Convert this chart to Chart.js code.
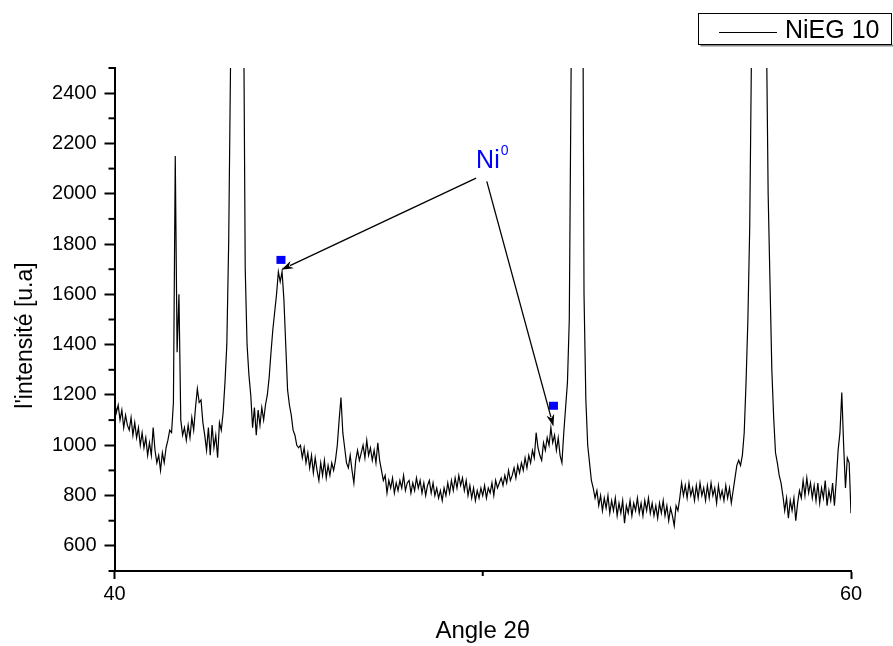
<!DOCTYPE html>
<html>
<head>
<meta charset="utf-8">
<script src="https://cdn.jsdelivr.net/npm/chart.js@4.4.1/dist/chart.umd.min.js"></script>
<style>
  html, body { margin: 0; padding: 0; background: #fff; }
  #wrap { width: 893px; height: 646px; }
</style>
</head>
<body>
<div id="wrap"><canvas id="canvas" width="893" height="646"></canvas></div>
<script>
// Diffractogramme NiEG 10, pas de 0.05° entre 40 et 60
const angleStart = 40;
const angleStep = 0.05;
const seriesLabel = 'NiEG 10';

// intensités, un bloc par degré
const intensity = [
  1180, 1130, 1160, 1100, 1140, 1070, 1120, 1080, 1060, 1110, 1040, 1090, 1030, 1070, 1000, 1050, 990, 1030, 960, 1010,
  960, 1070, 980, 930, 960, 900, 970, 930, 990, 1020, 1060, 1050, 1170, 2150, 1370, 1600, 1100, 1040, 1070, 1020,
  1080, 1030, 1110, 1060, 1150, 1225, 1170, 1180, 1090, 1040, 980, 1070, 960, 1080, 990, 1040, 950, 1090, 1060, 1130,
  1250, 1400, 1800, 2500, 3500, 4500, 5200, 5300, 4800, 3800, 2900, 1700, 1400, 1280, 1200, 1070, 1150, 1040, 1140, 1080,
  1150, 1100, 1160, 1200, 1270, 1370, 1460, 1530, 1600, 1690, 1650, 1690, 1580, 1400, 1220, 1160, 1120, 1060, 1040, 1000,
  990, 1000, 950, 990, 930, 970, 910, 960, 890, 950, 900, 860, 930, 880, 940, 870, 920, 880, 930, 900,
  940, 1000, 1100, 1190, 1050, 990, 930, 910, 960, 900, 850, 940, 980, 940, 970, 1000, 950, 1020, 960, 990,
  940, 980, 930, 1010, 940, 900, 860, 880, 810, 860, 830, 870, 810, 850, 820, 860, 830, 880, 820, 850,
  860, 810, 850, 820, 870, 830, 860, 810, 850, 800, 840, 860, 810, 850, 800, 830, 790, 820, 780, 830,
  800, 850, 810, 860, 820, 870, 830, 880, 840, 870, 820, 860, 800, 840, 790, 830, 780, 820, 790, 830,
  800, 840, 790, 830, 810, 850, 800, 860, 830, 850, 870, 840, 880, 850, 900, 860, 880, 910, 870, 920,
  890, 930, 900, 950, 910, 960, 930, 980, 950, 1050, 990, 960, 940, 1010, 980, 1030, 1000, 1070, 1010, 1040,
  980, 1030, 960, 930, 1050, 1150, 1250, 1500, 2500, 4000, 5500, 6200, 6300, 5600, 3500, 1600, 1180, 1000, 930, 860,
  830, 790, 820, 760, 800, 740, 790, 750, 800, 730, 780, 740, 790, 720, 770, 730, 780, 690, 760, 730,
  780, 720, 770, 740, 790, 730, 770, 720, 780, 740, 790, 730, 770, 720, 760, 710, 770, 730, 780, 720,
  760, 700, 750, 720, 680, 760, 740, 790, 850, 800, 840, 790, 850, 800, 830, 780, 840, 790, 850, 800,
  830, 780, 840, 790, 850, 800, 830, 770, 840, 790, 820, 780, 840, 790, 830, 770, 820, 870, 920, 940,
  920, 960, 1050, 1250, 1500, 1870, 2600, 3600, 4600, 5200, 5400, 5100, 4400, 3500, 2700, 2000, 1650, 1300, 1110, 970,
  930, 880, 850, 800, 740, 790, 710, 780, 740, 790, 700, 770, 820, 790, 860, 800, 870, 810, 850, 790,
  840, 780, 850, 770, 830, 790, 860, 760, 820, 780, 850, 760, 860, 980, 1050, 1210, 1000, 830, 950, 930, 730
];

// axes
const xMin = 40, xMax = 60, xStep = 10, xLabelEvery = 20;
const yMin = 500, yMax = 2500, yStep = 100, yLabelEvery = 200;

// annotation Ni0 (coordonnées en unités des axes)
const niMarkers = [[44.52, 1737], [51.92, 1157]];
const niArrows = [[49.82, 2062, 44.53, 1698], [50.11, 2049, 51.92, 1075]];
const niLabelAt = [49.82, 2103];

const points = intensity.map((v, i) => ({ x: +(angleStart + i * angleStep).toFixed(2), y: v }));

const FONT = "'Liberation Sans', Arial, sans-serif";

const extras = {
  id: 'extras',
  afterDraw(chart) {
    const { ctx, chartArea, scales: { x, y } } = chart;
    ctx.save();
    ctx.strokeStyle = '#000';
    ctx.lineWidth = 2;
    // petites graduations
    y.ticks.forEach(t => {
      if (t.value % yLabelEvery !== 0) {
        const py = y.getPixelForValue(t.value);
        ctx.beginPath(); ctx.moveTo(chartArea.left - 6, py); ctx.lineTo(chartArea.left, py); ctx.stroke();
      }
    });
    x.ticks.forEach(t => {
      if (t.value % xLabelEvery !== 0) {
        const px = x.getPixelForValue(t.value);
        ctx.beginPath(); ctx.moveTo(px, chartArea.bottom); ctx.lineTo(px, chartArea.bottom + 5); ctx.stroke();
      }
    });

    // flèches
    ctx.lineWidth = 1.3;
    ctx.fillStyle = '#000';
    niArrows.forEach(([x1, y1, x2, y2]) => {
      const ax = x.getPixelForValue(x1), ay = y.getPixelForValue(y1);
      const bx = x.getPixelForValue(x2), by = y.getPixelForValue(y2);
      const ang = Math.atan2(by - ay, bx - ax);
      const len = 12, w = 4;
      ctx.beginPath(); ctx.moveTo(ax, ay);
      ctx.lineTo(bx - Math.cos(ang) * len * 0.8, by - Math.sin(ang) * len * 0.8); ctx.stroke();
      ctx.beginPath();
      ctx.moveTo(bx, by);
      ctx.lineTo(bx - Math.cos(ang) * len - Math.sin(ang) * w, by - Math.sin(ang) * len + Math.cos(ang) * w);
      ctx.lineTo(bx - Math.cos(ang) * len * 0.7, by - Math.sin(ang) * len * 0.7);
      ctx.lineTo(bx - Math.cos(ang) * len + Math.sin(ang) * w, by - Math.sin(ang) * len - Math.cos(ang) * w);
      ctx.closePath(); ctx.fill();
    });

    // carrés bleus
    ctx.fillStyle = '#0000ff';
    niMarkers.forEach(([mx, my]) => {
      const px = x.getPixelForValue(mx), py = y.getPixelForValue(my);
      ctx.fillRect(px - 4.5, py - 4, 9, 8);
    });

    // texte Ni0
    const lx = x.getPixelForValue(niLabelAt[0]), ly = y.getPixelForValue(niLabelAt[1]);
    ctx.textBaseline = 'alphabetic';
    ctx.textAlign = 'left';
    ctx.font = '25px ' + FONT;
    ctx.fillText('Ni', lx, ly);
    const wNi = ctx.measureText('Ni').width;
    ctx.font = '14px ' + FONT;
    ctx.fillText('0', lx + wNi + 1, ly - 13);

    // légende
    const bx = 698.5, by = 13.5, bw = 193, bh = 31;
    ctx.fillStyle = '#888';
    ctx.fillRect(bx + 2, by + bh, bw, 2);
    ctx.fillStyle = '#fff';
    ctx.fillRect(bx, by, bw, bh);
    ctx.strokeStyle = '#000';
    ctx.lineWidth = 1;
    ctx.strokeRect(bx, by, bw, bh);
    ctx.beginPath(); ctx.moveTo(719, 32.5); ctx.lineTo(777, 32.5); ctx.stroke();
    ctx.fillStyle = '#000';
    ctx.font = '25px ' + FONT;
    ctx.fillText(chart.data.datasets[0].label, 785, 38);
    ctx.restore();
  }
};

new Chart(document.querySelector('#canvas'), {
  type: 'line',
  data: {
    datasets: [{
      label: seriesLabel,
      data: points,
      borderColor: '#000',
      borderWidth: 1.2,
      pointRadius: 0,
      tension: 0,
      fill: false
    }]
  },
  options: {
    responsive: false,
    animation: false,
    layout: { padding: { left: 0, right: 42, top: 68, bottom: 0 } },
    plugins: { legend: { display: false }, tooltip: { enabled: false } },
    scales: {
      x: {
        type: 'linear',
        min: xMin, max: xMax,
        afterFit: s => { s.height = 75; },
        border: { display: true, color: '#000', width: 2 },
        grid: {
          drawOnChartArea: false, tickLength: 8, tickWidth: 2,
          tickColor: c => (c.tick && c.tick.value % xLabelEvery === 0) ? '#000' : 'rgba(0,0,0,0)'
        },
        ticks: {
          stepSize: xStep, autoSkip: false, maxRotation: 0, padding: 3, color: '#000',
          font: { family: FONT, size: 20 },
          callback: v => (v % xLabelEvery === 0 ? v : '')
        },
        title: {
          display: true, text: 'Angle 2θ', color: '#000',
          font: { family: FONT, size: 24 }, padding: { top: 0, bottom: 0 }
        }
      },
      y: {
        min: yMin, max: yMax,
        afterFit: s => { s.width = 114.5; },
        border: { display: true, color: '#000', width: 2 },
        grid: {
          drawOnChartArea: false, tickLength: 10, tickWidth: 2,
          tickColor: c => (c.tick && c.tick.value % yLabelEvery === 0) ? '#000' : 'rgba(0,0,0,0)'
        },
        ticks: {
          stepSize: yStep, autoSkip: false, padding: 8, color: '#000',
          font: { family: FONT, size: 20 },
          callback: v => (v % yLabelEvery === 0 && v !== yMin && v !== yMax ? v : '')
        },
        title: {
          display: true, text: "l'intensité [u.a]     ", color: '#000',
          font: { family: FONT, size: 23 }, padding: { top: 12, bottom: 0 }
        }
      }
    }
  },
  plugins: [extras]
});
</script>
</body>
</html>
